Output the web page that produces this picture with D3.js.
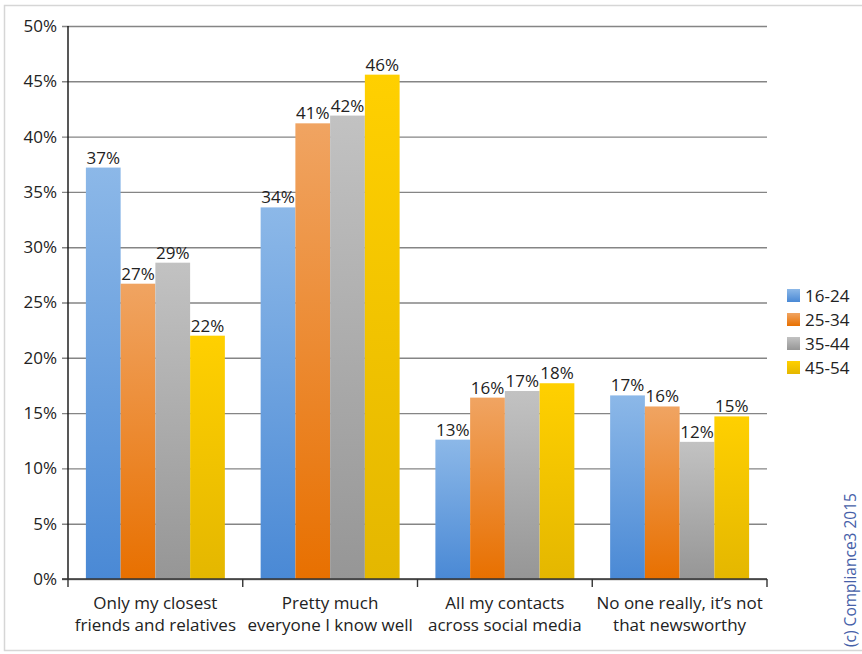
<!DOCTYPE html>
<html>
<head>
<meta charset="utf-8">
<script src="https://cdn.jsdelivr.net/npm/d3@7"></script>
<style>
  html, body { margin: 0; padding: 0; background: #fff; }
  svg { display: block; font-family: "Open Sans", sans-serif; }
</style>
</head>
<body>
<svg id="chart" width="862" height="654"></svg>
<script>
// Survey answers, grouped by age band
const categories = [
  ["Only my closest", "friends and relatives"],
  ["Pretty much", "everyone I know well"],
  ["All my contacts", "across social media"],
  ["No one really, it\u2019s not", "that newsworthy"]
];
const series = ["16-24", "25-34", "35-44", "45-54"];
const values16_24 = [37.2, 33.6, 12.6, 16.6];
const values25_34 = [26.7, 41.2, 16.4, 15.6];
const values35_44 = [28.6, 41.9, 17.0, 12.4];
const values45_54 = [22.0, 45.6, 17.7, 14.7];
const yTicks = [0, 5, 10, 15, 20, 25, 30, 35, 40, 45, 50];

const seriesValues = [values16_24, values25_34, values35_44, values45_54];
// gradient stops: light at the top of each bar, saturated at the bottom
const palette = [
  { top: "#8cb8e8", bottom: "#4a89d5" },
  { top: "#f0a462", bottom: "#e87000" },
  { top: "#c2c2c2", bottom: "#969696" },
  { top: "#ffd000", bottom: "#e4b700" }
];
const FS = "17px";

const svg = d3.select("#chart");
const margin = { left: 68, right: 767, top: 26, bottom: 579 };

// outer frame
svg.append("rect")
  .attr("x", 4.5).attr("y", 5.5)
  .attr("width", 880).attr("height", 645)
  .attr("fill", "none").attr("stroke", "#d6d6d6").attr("stroke-width", 1.5);

const defs = svg.append("defs");
palette.forEach((p, i) => {
  const g = defs.append("linearGradient")
    .attr("id", "grad" + i)
    .attr("x1", 0).attr("y1", 0).attr("x2", 0).attr("y2", 1);
  g.append("stop").attr("offset", "0%").attr("stop-color", p.top);
  g.append("stop").attr("offset", "100%").attr("stop-color", p.bottom);
});

const catKeys = categories.map((c, i) => i);
const x0 = d3.scaleBand().domain(catKeys).range([margin.left, margin.right]).padding(0);
const x1 = d3.scaleBand().domain(series).range([0, x0.bandwidth()])
  .paddingInner(0).paddingOuter(0.515);
const y = d3.scaleLinear().domain([0, 50]).range([margin.bottom, margin.top]);

// horizontal gridlines + y-axis labels
const yAxis = d3.axisLeft(y)
  .tickValues(yTicks)
  .tickFormat(d => d + "%")
  .tickSize(-(margin.right - margin.left + 6))
  .tickSizeOuter(0);
const yG = svg.append("g")
  .attr("transform", `translate(${margin.left - 6},0)`)
  .call(yAxis);
yG.select(".domain").remove();
yG.selectAll(".tick line")
  .attr("stroke", "#858585").attr("stroke-width", 1.4);
yG.selectAll(".tick text")
  .attr("x", -5)
  .attr("fill", "#222")
  .style("font-size", FS)
  .style("font-family", "'Open Sans', sans-serif");

// vertical axis line
svg.append("line")
  .attr("x1", margin.left).attr("x2", margin.left)
  .attr("y1", margin.top).attr("y2", margin.bottom)
  .attr("stroke", "#111").attr("stroke-width", 1.4);

// bars
const groups = svg.append("g").selectAll("g")
  .data(catKeys)
  .join("g")
  .attr("transform", d => `translate(${x0(d)},0)`);

groups.selectAll("rect")
  .data(ci => series.map((s, si) => ({ s, si, v: seriesValues[si][ci] })))
  .join("rect")
  .attr("x", d => x1(d.s))
  .attr("y", d => y(d.v))
  .attr("width", x1.bandwidth())
  .attr("height", d => y(0) - y(d.v))
  .attr("fill", d => `url(#grad${d.si})`);

groups.selectAll("text.val")
  .data(ci => series.map((s, si) => ({ s, si, v: seriesValues[si][ci] })))
  .join("text")
  .attr("class", "val")
  .attr("x", d => x1(d.s) + x1.bandwidth() / 2)
  .attr("y", d => y(d.v) - 4)
  .attr("text-anchor", "middle")
  .attr("fill", "#222")
  .style("font-size", FS)
  .text(d => Math.round(d.v) + "%");

// x-axis line with category separators
const xG = svg.append("g");
xG.append("line")
  .attr("x1", margin.left - 6).attr("x2", margin.right)
  .attr("y1", margin.bottom).attr("y2", margin.bottom)
  .attr("stroke", "#333").attr("stroke-width", 1.4);
const boundaries = catKeys.map(k => x0(k)).concat([margin.right]);
xG.selectAll("line.sep")
  .data(boundaries)
  .join("line")
  .attr("class", "sep")
  .attr("x1", d => d).attr("x2", d => d)
  .attr("y1", margin.bottom).attr("y2", margin.bottom + 8)
  .attr("stroke", "#333").attr("stroke-width", 1.4);

// category labels (two lines each)
const catText = xG.selectAll("text.cat")
  .data(catKeys)
  .join("text")
  .attr("class", "cat")
  .attr("text-anchor", "middle")
  .attr("fill", "#222")
  .style("font-size", FS);
catText.selectAll("tspan")
  .data(k => categories[k].map(line => ({ k, line })))
  .join("tspan")
  .attr("x", d => x0(d.k) + x0.bandwidth() / 2)
  .attr("y", (d, i) => 609 + i * 22)
  .text(d => d.line);

// legend
const legend = svg.append("g").attr("transform", "translate(787,289)");
const li = legend.selectAll("g")
  .data(series)
  .join("g")
  .attr("transform", (d, i) => `translate(0,${i * 24})`);
li.append("rect")
  .attr("width", 13).attr("height", 13)
  .attr("fill", (d, i) => `url(#grad${i})`);
li.append("text")
  .attr("x", 18).attr("y", 12.5)
  .attr("fill", "#222")
  .style("font-size", FS)
  .text(d => d);

// copyright note
svg.append("text")
  .attr("transform", "translate(856,570) rotate(-90)")
  .attr("text-anchor", "middle")
  .attr("fill", "#4660a8")
  .style("font-size", "15.5px")
  .text("(c) Compliance3  2015");
</script>
</body>
</html>
